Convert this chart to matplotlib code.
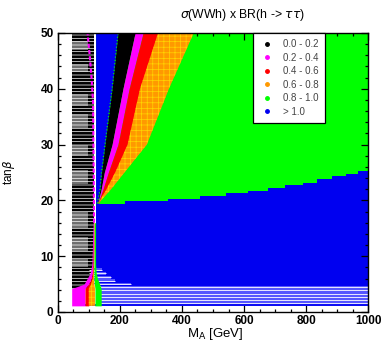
import numpy as np
import matplotlib
matplotlib.use("Agg")
import matplotlib.pyplot as plt
from matplotlib.lines import Line2D

plt.rcParams['font.family'] = ['Liberation Sans', 'DejaVu Sans']
plt.rcParams['hatch.linewidth'] = 0.5

# ---------------- data ----------------
# green / blue boundary (step function in M_A)
gb_ma = [122, 216, 355, 458, 542, 613, 677, 732, 790, 835, 884, 929, 968, 1000]
gb_tb = [19.3, 19.9, 20.2, 20.8, 21.3, 21.7, 22.2, 22.8, 23.2, 23.8, 24.3, 24.7, 25.3, 25.3]

# coloured bands at high tan(beta): right edges in M_A
band_tb = [19.5, 22, 25, 30, 40, 50]
blue_r = [128, 136, 141, 152, 175, 194]
black_r = [129, 140, 150, 175, 210, 249]
magenta_r = [130, 146, 163, 194, 230, 275]
red_r = [131, 157, 185, 225, 265, 323]
orange_r = [132, 172, 215, 287, 358, 438]

# lower-left coloured region
ll_tb = [1.1, 4.2, 5.0, 6.0, 7.0, 8.5, 12, 16]
ll_start = [45, 45, 85, 95, 105, 110, 112, 114]
ll_magenta = [88, 88, 100, 108, 112, 114, 115, 116]
ll_red = [100, 100, 108, 113, 115, 116, 117, 117]
ll_orange = [120, 120, 118, 117, 117, 117, 118, 118]
ll_green = [140, 140, 135, 128, 124, 122, 122, 122]

# magenta dot column along the striped region
md_tb = [16, 25, 30, 37.5, 42, 46, 50]
md_ma = [117, 116, 115, 114, 109, 103, 96]

# low tan(beta) light-blue rows
lb_lines = [1.6, 2.1, 2.7, 3.3, 3.9, 4.5]
stair_tb = [7.6, 6.9, 6.2, 5.6, 5.0]
stair_ma = [143, 155, 170, 185, 235]

# grey rows inside striped region
grey_rows = [(8, 9.5), (11, 13.5), (15, 18), (23, 25.5), (28, 30), (33, 35.5),
             (37, 39), (43, 44.5), (47, 48.5)]

legend_labels = ["0.0 - 0.2", "0.2 - 0.4", "0.4 - 0.6", "0.6 - 0.8", "0.8 - 1.0", "> 1.0"]
legend_colors = ["black", "#ff00ff", "#ff0000", "#ff9900", "#00ff00", "#0000f0"]

BLUE = "#0000f0"
GREEN = "#00ff00"
MAG = "#ff00ff"
RED = "#ff0000"
ORANGE = "#ff9900"
LBLUE = "#5555ff"

# ---------------- figure ----------------
fig = plt.figure(figsize=(3.82, 3.43), dpi=100)
ax = fig.add_axes([57.7 / 382, 31 / 343, 310.6 / 382, 279 / 343])
ax.set_xlim(0, 1000)
ax.set_ylim(0, 50)

# green region
ax.fill_between(gb_ma, gb_tb, 50, step='post', color=GREEN, lw=0, zorder=1)
# blue region
ax.fill_between(gb_ma, 4.6, gb_tb, step='post', color=BLUE, lw=0, zorder=1)

# bands
ax.fill_betweenx(band_tb, 122, blue_r, color=BLUE, lw=0, zorder=2)
ax.fill_betweenx(band_tb, blue_r, black_r, color="black", lw=0, zorder=2)
ax.fill_betweenx(band_tb, black_r, magenta_r, color=MAG, lw=0, zorder=2)
ax.fill_betweenx(band_tb, magenta_r, red_r, color=RED, lw=0, zorder=2)
ax.fill_betweenx(band_tb, red_r, orange_r, facecolor=ORANGE, edgecolor="#ffd400",
                 hatch="+++", lw=0, zorder=2)
# noisy edge between blue and black
ax.plot(blue_r, band_tb, color=GREEN, lw=0.8, ls=(0, (1, 2)), zorder=3)

# striped (black/grey/white) region
ax.fill_between([45, 118], 4.2, 50, facecolor="black", edgecolor="white",
                hatch="-----", lw=0, zorder=2)
for lo, hi in grey_rows:
    ax.fill_between([45, 98], lo, hi, facecolor="#6e6e6e", edgecolor="white",
                    hatch="-----", lw=0, zorder=2)

# magenta dot column
ax.plot(md_ma, md_tb, color=MAG, lw=1.5, ls=(0, (2, 1)), zorder=3)

# bottom light-blue band
ax.fill_between([138, 1000], 1.1, 4.6, color=LBLUE, lw=0, zorder=2)
ax.hlines(lb_lines, 100, 1000, color="white", lw=0.6, zorder=3)
ax.hlines([1.25], 60, 1000, color=BLUE, lw=1.2, zorder=3)
for t, m in zip(stair_tb, stair_ma):
    ax.fill_between([118, m], t - 0.25, t + 0.25, color=LBLUE, lw=0, zorder=3)
    ax.hlines([t], 100, m, color="white", lw=0.6, zorder=3)

# lower-left coloured region
ax.fill_betweenx(ll_tb, ll_start, ll_magenta, color=MAG, lw=0, zorder=4)
ax.fill_betweenx(ll_tb, ll_magenta, ll_red, color=RED, lw=0, zorder=4)
ax.fill_betweenx(ll_tb, ll_red, ll_orange, facecolor=ORANGE, edgecolor="#ffd400",
                 hatch="+++", lw=0, zorder=4)
ax.fill_betweenx(ll_tb, ll_orange, ll_green, color=GREEN, lw=0, zorder=4)

# ---------------- axes styling ----------------
ax.set_xticks([0, 200, 400, 600, 800, 1000])
ax.set_xticks(np.arange(0, 1001, 50), minor=True)
ax.set_yticks([0, 10, 20, 30, 40, 50])
ax.set_yticks(np.arange(0, 51, 2), minor=True)
ax.tick_params(which='both', direction='in', top=True, right=True, width=0.9,
               labelsize=8.5)
ax.tick_params(axis='x', pad=2)
ax.tick_params(axis='y', pad=3)
ax.tick_params(which='major', length=5)
ax.tick_params(which='minor', length=2.5)
for lab in ax.get_xticklabels() + ax.get_yticklabels():
    lab.set_fontweight('bold')
for s in ax.spines.values():
    s.set_linewidth(1.0)
    s.set_zorder(10)

fig.text(215 / 382, 1 - 342 / 343, r"M$_{\rm A}$ [GeV]", ha='center', va='bottom', fontsize=9.5)
fig.text(9 / 382, 1 - 172 / 343, r"tan$\beta$", ha='center', va='center', fontsize=8.5,
         rotation=90)
fig.text(242 / 382, 1 - 15 / 343, r"$\sigma$(WWh) x BR(h -> $\tau\tau$)", ha='center',
         va='center', fontsize=8.8)

handles = [Line2D([], [], ls='none', marker='o', ms=2.5, color=c, mec=c) for c in legend_colors]
leg = ax.legend(handles, legend_labels, loc='upper left', bbox_to_anchor=(0.629, 1.0),
                borderaxespad=0, fancybox=False, framealpha=1, edgecolor='black',
                fontsize=7, labelspacing=0.36, handlelength=1.5, handletextpad=0.9,
                borderpad=0.65, labelcolor='#444444')
leg.get_frame().set_linewidth(0.9)
leg.set_zorder(20)

fig.savefig("out.png", dpi=100)
